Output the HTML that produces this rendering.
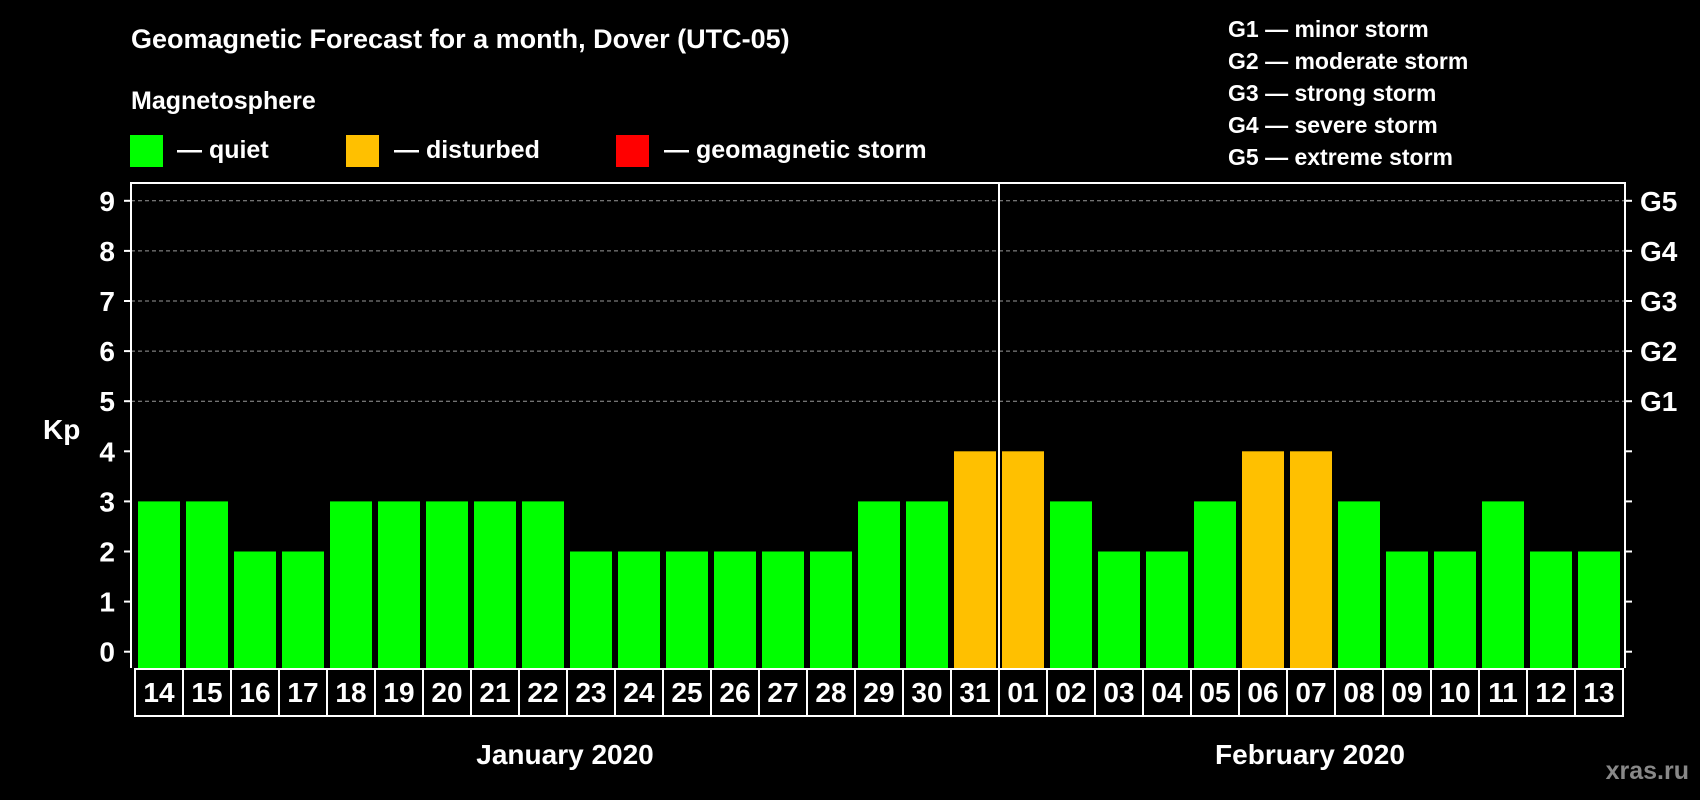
<!DOCTYPE html>
<html><head><meta charset="utf-8"><style>
html,body{margin:0;padding:0;background:#000;}
svg{display:block;font-family:"Liberation Sans",sans-serif;font-weight:bold;}
</style></head><body>
<svg id="chart" width="1700" height="800" viewBox="0 0 1700 800" xmlns="http://www.w3.org/2000/svg">
<rect width="1700" height="800" fill="#000"/>
<text x="131" y="48" fill="#fff" font-size="27">Geomagnetic Forecast for a month, Dover (UTC-05)</text>
<text x="131" y="109" fill="#fff" font-size="25">Magnetosphere</text>
<g>
<rect x="130" y="135" width="33" height="32" fill="#00ff00"/>
<text x="177" y="158" fill="#fff" font-size="25">— quiet</text></g>
<g>
<rect x="346" y="135" width="33" height="32" fill="#ffc000"/>
<text x="394" y="158" fill="#fff" font-size="25">— disturbed</text></g>
<g>
<rect x="616" y="135" width="33" height="32" fill="#ff0000"/>
<text x="664" y="158" fill="#fff" font-size="25">— geomagnetic storm</text></g>
<g fill="#fff" font-size="23">
<text x="1228" y="37">G1 — minor storm</text>
<text x="1228" y="69">G2 — moderate storm</text>
<text x="1228" y="101">G3 — strong storm</text>
<text x="1228" y="133">G4 — severe storm</text>
<text x="1228" y="165">G5 — extreme storm</text>
</g>
<text x="43" y="439" fill="#fff" font-size="28">Kp</text>
<g id="grid"></g>
<g id="bars"></g>
<g id="axes"></g>
<text x="565" y="764" fill="#fff" font-size="28" text-anchor="middle">January 2020</text>
<text x="1310" y="764" fill="#fff" font-size="28" text-anchor="middle">February 2020</text>
<text x="1689" y="779" fill="#888" font-size="25" text-anchor="end">xras.ru</text>
</svg>
<script>
const days = ["14","15","16","17","18","19","20","21","22","23","24","25","26","27","28","29","30","31","01","02","03","04","05","06","07","08","09","10","11","12","13"];
const kpValues = [3,3,2,2,3,3,3,3,3,2,2,2,2,2,2,3,3,4,4,3,2,2,3,4,4,3,2,2,3,2,2];
const yTicks = [0,1,2,3,4,5,6,7,8,9];
const gLabels = ["G1","G2","G3","G4","G5"];
const gLevels = [5,6,7,8,9];
const NS="http://www.w3.org/2000/svg";
const L=131,R=1625,T=183,B=668;
const x0=138,step=48,bw=42;
function y(v){return 651.7-50.1*v;}
function xb(i){return x0+i*step;}
function mk(tag,attrs,parent){const e=document.createElementNS(NS,tag);for(const k in attrs)e.setAttribute(k,attrs[k]);parent.appendChild(e);return e;}
const grid=document.getElementById('grid'),bars=document.getElementById('bars'),axes=document.getElementById('axes');
gLevels.forEach(v=>{
  const ln=mk('line',{x1:L,x2:R,y1:y(v),y2:y(v),stroke:'#999','stroke-width':1,'stroke-dasharray':'4 3'},grid);
  
  
});
kpValues.forEach((v,i)=>{
  const c=v>=5?'#ff0000':(v>=4?'#ffc000':'#00ff00');
  const r=mk('rect',{x:xb(i),y:y(v),width:bw,height:B-y(v),fill:c},bars);
  
  
});
// frame
const fr=mk('path',{d:`M${L} ${B}V${T}H${R}V${B}`,stroke:'#fff','stroke-width':2,fill:'none'},axes);


const idx=days.indexOf("01");
const sx=xb(idx)-3;
const sep=mk('line',{x1:sx,x2:sx,y1:T,y2:B,stroke:'#fff','stroke-width':2},axes);


yTicks.forEach(v=>{
  mk('line',{x1:L-7,x2:L,y1:y(v),y2:y(v),stroke:'#fff','stroke-width':2},axes);
  mk('line',{x1:R,x2:R+7,y1:y(v),y2:y(v),stroke:'#fff','stroke-width':2},axes);
  const t=mk('text',{x:115,y:y(v)+10,fill:'#fff','font-size':28,'text-anchor':'end'},axes);
  t.textContent=v;
  
  
});
gLevels.forEach((v,i)=>{
  const t=mk('text',{x:1640,y:y(v)+10,fill:'#fff','font-size':28},axes);
  t.textContent=gLabels[i];
  
  
});
// date boxes
const bx0=xb(0)-3,bx1=xb(days.length-1)+bw+3;
const box=mk('rect',{x:bx0,y:669,width:bx1-bx0,height:47,fill:'none',stroke:'#fff','stroke-width':2},axes);


days.forEach((d,i)=>{
  if(i>0) mk('line',{x1:xb(i)-3,x2:xb(i)-3,y1:669,y2:716,stroke:'#fff','stroke-width':2},axes);
  const t=mk('text',{x:xb(i)+bw/2,y:702,fill:'#fff','font-size':28,'text-anchor':'middle'},axes);
  t.textContent=d;
  
  
});
</script>
</body></html>
